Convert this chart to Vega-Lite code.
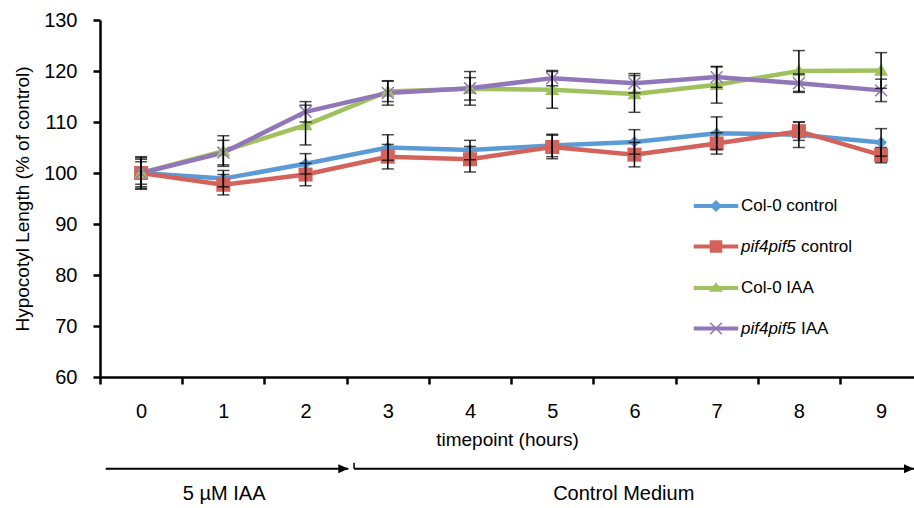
{
  "$schema": "https://vega.github.io/schema/vega-lite/v6.json",
  "width": 814,
  "height": 357,
  "autosize": {"type": "none"},
  "padding": {"left": 100, "top": 20, "right": 0, "bottom": 131},
  "background": "white",
  "config": {
    "view": {"stroke": null},
    "font": "Liberation Sans",
    "axis": {
      "domainColor": "black", "domainWidth": 2.5, "tickColor": "black", "tickWidth": 2.5, "tickSize": 7,
      "labelColor": "black", "labelFont": "Liberation Sans", "labelFontSize": 20,
      "titleColor": "black", "titleFont": "Liberation Sans", "titleFontWeight": "normal", "titleFontSize": 19,
      "grid": false, "labelFlush": false, "labelOverlap": false
    }
  },
  "datasets": {
    "growth": [
      {"t": 0, "series": "Col-0 control", "value": 100.0, "err": 3.0},
      {"t": 1, "series": "Col-0 control", "value": 98.9, "err": 1.6},
      {"t": 2, "series": "Col-0 control", "value": 101.8, "err": 2.0},
      {"t": 3, "series": "Col-0 control", "value": 105.0, "err": 2.5},
      {"t": 4, "series": "Col-0 control", "value": 104.5, "err": 1.9},
      {"t": 5, "series": "Col-0 control", "value": 105.4, "err": 2.2},
      {"t": 6, "series": "Col-0 control", "value": 106.1, "err": 2.4},
      {"t": 7, "series": "Col-0 control", "value": 107.8, "err": 3.2},
      {"t": 8, "series": "Col-0 control", "value": 107.5, "err": 2.5},
      {"t": 9, "series": "Col-0 control", "value": 106.0, "err": 2.7},
      {"t": 0, "series": "pif4pif5 control", "value": 100.0, "err": 3.2},
      {"t": 1, "series": "pif4pif5 control", "value": 97.7, "err": 2.0},
      {"t": 2, "series": "pif4pif5 control", "value": 99.7, "err": 2.2},
      {"t": 3, "series": "pif4pif5 control", "value": 103.2, "err": 2.4},
      {"t": 4, "series": "pif4pif5 control", "value": 102.7, "err": 2.5},
      {"t": 5, "series": "pif4pif5 control", "value": 105.1, "err": 2.3},
      {"t": 6, "series": "pif4pif5 control", "value": 103.6, "err": 2.4},
      {"t": 7, "series": "pif4pif5 control", "value": 105.8, "err": 2.1},
      {"t": 8, "series": "pif4pif5 control", "value": 108.2, "err": 1.8},
      {"t": 9, "series": "pif4pif5 control", "value": 103.5, "err": 1.5},
      {"t": 0, "series": "Col-0 IAA", "value": 100.0, "err": 2.2},
      {"t": 1, "series": "Col-0 IAA", "value": 104.3, "err": 3.0},
      {"t": 2, "series": "Col-0 IAA", "value": 109.4, "err": 3.9},
      {"t": 3, "series": "Col-0 IAA", "value": 116.0, "err": 2.0},
      {"t": 4, "series": "Col-0 IAA", "value": 116.5, "err": 2.2},
      {"t": 5, "series": "Col-0 IAA", "value": 116.3, "err": 3.6},
      {"t": 6, "series": "Col-0 IAA", "value": 115.5, "err": 3.6},
      {"t": 7, "series": "Col-0 IAA", "value": 117.3, "err": 3.6},
      {"t": 8, "series": "Col-0 IAA", "value": 120.0, "err": 4.0},
      {"t": 9, "series": "Col-0 IAA", "value": 120.1, "err": 3.5},
      {"t": 0, "series": "pif4pif5 IAA", "value": 100.0, "err": 2.7},
      {"t": 1, "series": "pif4pif5 IAA", "value": 104.0, "err": 2.4},
      {"t": 2, "series": "pif4pif5 IAA", "value": 112.0, "err": 2.0},
      {"t": 3, "series": "pif4pif5 IAA", "value": 115.7, "err": 2.4},
      {"t": 4, "series": "pif4pif5 IAA", "value": 116.6, "err": 3.3},
      {"t": 5, "series": "pif4pif5 IAA", "value": 118.6, "err": 1.5},
      {"t": 6, "series": "pif4pif5 IAA", "value": 117.6, "err": 1.9},
      {"t": 7, "series": "pif4pif5 IAA", "value": 118.8, "err": 2.0},
      {"t": 8, "series": "pif4pif5 IAA", "value": 117.6, "err": 1.8},
      {"t": 9, "series": "pif4pif5 IAA", "value": 116.2, "err": 2.2}
    ],
    "phases": [
      {"phase": "5 µM IAA", "start": -0.43, "end": 2.52, "center": 1.01},
      {"phase": "Control Medium", "start": 2.59, "end": 9.4, "center": 5.87}
    ]
  },
  "layer": [
    {
      "data": {"name": "growth"},
      "mark": {"type": "line", "strokeWidth": 4.5},
      "encoding": {
        "x": {
          "field": "t", "type": "quantitative",
          "scale": {"domain": [-0.5, 9.4], "nice": false, "zero": false},
          "axis": {
            "values": [0, 1, 2, 3, 4, 5, 6, 7, 8, 9], "format": "d", "tickOffset": -41.1, "labelOffset": 41.1,
            "labelPadding": 17, "title": "timepoint (hours)", "titlePadding": 9
          }
        },
        "y": {
          "field": "value", "type": "quantitative",
          "scale": {"domain": [60, 130], "nice": false, "zero": false},
          "axis": {
            "values": [60, 70, 80, 90, 100, 110, 120, 130], "labelPadding": 16,
            "title": "Hypocotyl Length (% of control)", "titlePadding": 11
          }
        },
        "color": {
          "field": "series", "type": "nominal",
          "scale": {
            "domain": ["Col-0 control", "pif4pif5 control", "Col-0 IAA", "pif4pif5 IAA"],
            "range": ["#5B9BD5", "#D3625A", "#A0C25E", "#9177B9"]
          },
          "legend": {
            "orient": "none", "legendX": 605, "legendY": 175, "title": null, "padding": 0,
            "labelFont": "Liberation Sans", "labelFontSize": 17, "labelColor": "black",
            "symbolSize": 400, "symbolStrokeWidth": 1.5, "rowPadding": 21.5, "labelOffset": 14,
            "labelExpr": "indexof(datum.label, 'pif4pif5') == 0 ? 'pif4pif5' : datum.label",
            "encode": {
              "symbols": {"update": {
                "shape": {"signal": "datum.value == 'Col-0 control' ? 'M-2.15,-0.13H2.15V0.13H-2.15Z M0,-0.5L0.5,0L0,0.5L-0.5,0Z' : datum.value == 'pif4pif5 control' ? 'M-2.15,-0.13H2.15V0.13H-2.15Z M-0.55,-0.55H0.55V0.55H-0.55Z' : datum.value == 'Col-0 IAA' ? 'M-2.15,-0.13H2.15V0.13H-2.15Z M-0.56,0.3L0,-0.44L0.56,0.3Z' : 'M-2.15,-0.13H2.15V0.13H-2.15Z M-0.58,-0.58L0.58,0.58M-0.58,0.58L0.58,-0.58'"},
                "fill": {"scale": "color", "field": "value"},
                "stroke": {"scale": "color", "field": "value"},
                "strokeWidth": {"value": 1.5},
                "opacity": {"value": 1}
              }},
              "labels": {"update": {
                "fontStyle": {"signal": "indexof(datum.value, 'pif') == 0 ? 'italic' : 'normal'"}
              }}
            }
          }
        },
        "opacity": {
          "field": "series", "type": "nominal",
          "scale": {
            "domain": ["pif4pif5 IAA", "Col-0 IAA", "pif4pif5 control", "Col-0 control"],
            "range": [1, 1]
          },
          "legend": {
            "orient": "none", "legendX": 665, "legendY": 175, "title": null, "padding": 0,
            "values": ["Col-0 control", "pif4pif5 control", "Col-0 IAA", "pif4pif5 IAA"],
            "labelFont": "Liberation Sans", "labelFontSize": 17, "labelColor": "black",
            "symbolSize": 400, "symbolStrokeWidth": 1.5, "rowPadding": 21.5, "labelOffset": 14,
            "symbolFillColor": "transparent", "symbolStrokeColor": "transparent",
            "labelExpr": "indexof(datum.label, 'pif4pif5') == 0 ? replace(datum.label, 'pif4pif5 ', '') : ' '",
            "encode": {
              "symbols": {"update": {
                "shape": {"signal": "datum.value == 'Col-0 control' ? 'M-2.15,-0.13H2.15V0.13H-2.15Z M0,-0.5L0.5,0L0,0.5L-0.5,0Z' : datum.value == 'pif4pif5 control' ? 'M-2.15,-0.13H2.15V0.13H-2.15Z M-0.55,-0.55H0.55V0.55H-0.55Z' : datum.value == 'Col-0 IAA' ? 'M-2.15,-0.13H2.15V0.13H-2.15Z M-0.56,0.3L0,-0.44L0.56,0.3Z' : 'M-2.15,-0.13H2.15V0.13H-2.15Z M-0.58,-0.58L0.58,0.58M-0.58,0.58L0.58,-0.58'"},
                "strokeWidth": {"value": 1.5},
                "fill": {"value": "transparent"},
                "stroke": {"value": "transparent"},
                "opacity": {"value": 0}
              }}
            }
          }
        }
      }
    },
    {
      "data": {"name": "growth"},
      "transform": [{"filter": "datum.series == 'Col-0 control'"}],
      "mark": {"type": "point", "filled": true, "shape": "M0,-0.8L0.8,0L0,0.8L-0.8,0Z", "size": 210, "color": "#5B9BD5", "opacity": 1},
      "encoding": {
        "x": {"field": "t", "type": "quantitative"},
        "y": {"field": "value", "type": "quantitative", "title": "Hypocotyl Length (% of control)"}
      }
    },
    {
      "data": {"name": "growth"},
      "transform": [{"filter": "datum.series == 'pif4pif5 control'"}],
      "mark": {"type": "point", "filled": true, "shape": "M-1,-1H1V1H-1Z", "size": 196, "color": "#D3625A", "opacity": 1},
      "encoding": {
        "x": {"field": "t", "type": "quantitative"},
        "y": {"field": "value", "type": "quantitative", "title": "Hypocotyl Length (% of control)"}
      }
    },
    {
      "data": {"name": "growth"},
      "transform": [{"filter": "datum.series == 'Col-0 IAA'"}],
      "mark": {"type": "point", "filled": true, "shape": "M-1,0.75L0,-0.95L1,0.75Z", "size": 196, "color": "#A0C25E", "opacity": 1},
      "encoding": {
        "x": {"field": "t", "type": "quantitative"},
        "y": {"field": "value", "type": "quantitative", "title": "Hypocotyl Length (% of control)"}
      }
    },
    {
      "data": {"name": "growth"},
      "transform": [{"filter": "datum.series == 'pif4pif5 IAA'"}],
      "mark": {"type": "point", "filled": false, "shape": "M-0.85,-0.85L0.85,0.85M-0.85,0.85L0.85,-0.85", "size": 196, "color": "#9177B9", "strokeWidth": 1.5, "opacity": 1},
      "encoding": {
        "x": {"field": "t", "type": "quantitative"},
        "y": {"field": "value", "type": "quantitative", "title": "Hypocotyl Length (% of control)"}
      }
    },
    {
      "data": {"name": "growth"},
      "mark": {"type": "errorbar", "color": "black", "thickness": 1.5, "ticks": {"size": 12}, "rule": true},
      "encoding": {
        "x": {"field": "t", "type": "quantitative"},
        "y": {"field": "value", "type": "quantitative", "title": "Hypocotyl Length (% of control)"},
        "yError": {"field": "err"}
      }
    },
    {
      "data": {"name": "phases"},
      "mark": {"type": "rule", "color": "black", "strokeWidth": 2, "clip": false},
      "encoding": {
        "x": {"field": "start", "type": "quantitative"},
        "x2": {"field": "end"},
        "y": {"datum": 42}
      }
    },
    {
      "data": {"name": "phases"},
      "mark": {"type": "point", "shape": "M0,0L-2,-0.9L-2,0.9Z", "size": 100, "filled": true, "color": "black", "opacity": 1, "clip": false},
      "encoding": {
        "x": {"field": "end", "type": "quantitative"},
        "y": {"datum": 42}
      }
    },
    {
      "data": {"name": "phases"},
      "transform": [{"filter": "datum.phase == 'Control Medium'"}],
      "mark": {"type": "rule", "color": "black", "strokeWidth": 1.5, "clip": false},
      "encoding": {
        "x": {"field": "start", "type": "quantitative"},
        "y": {"datum": 42},
        "y2": {"datum": 43.2}
      }
    },
    {
      "data": {"name": "phases"},
      "mark": {"type": "text", "font": "Liberation Sans", "fontSize": 20, "color": "black", "baseline": "middle", "align": "center", "clip": false},
      "encoding": {
        "x": {"field": "center", "type": "quantitative"},
        "y": {"datum": 37},
        "text": {"field": "phase"}
      }
    }
  ]
}
